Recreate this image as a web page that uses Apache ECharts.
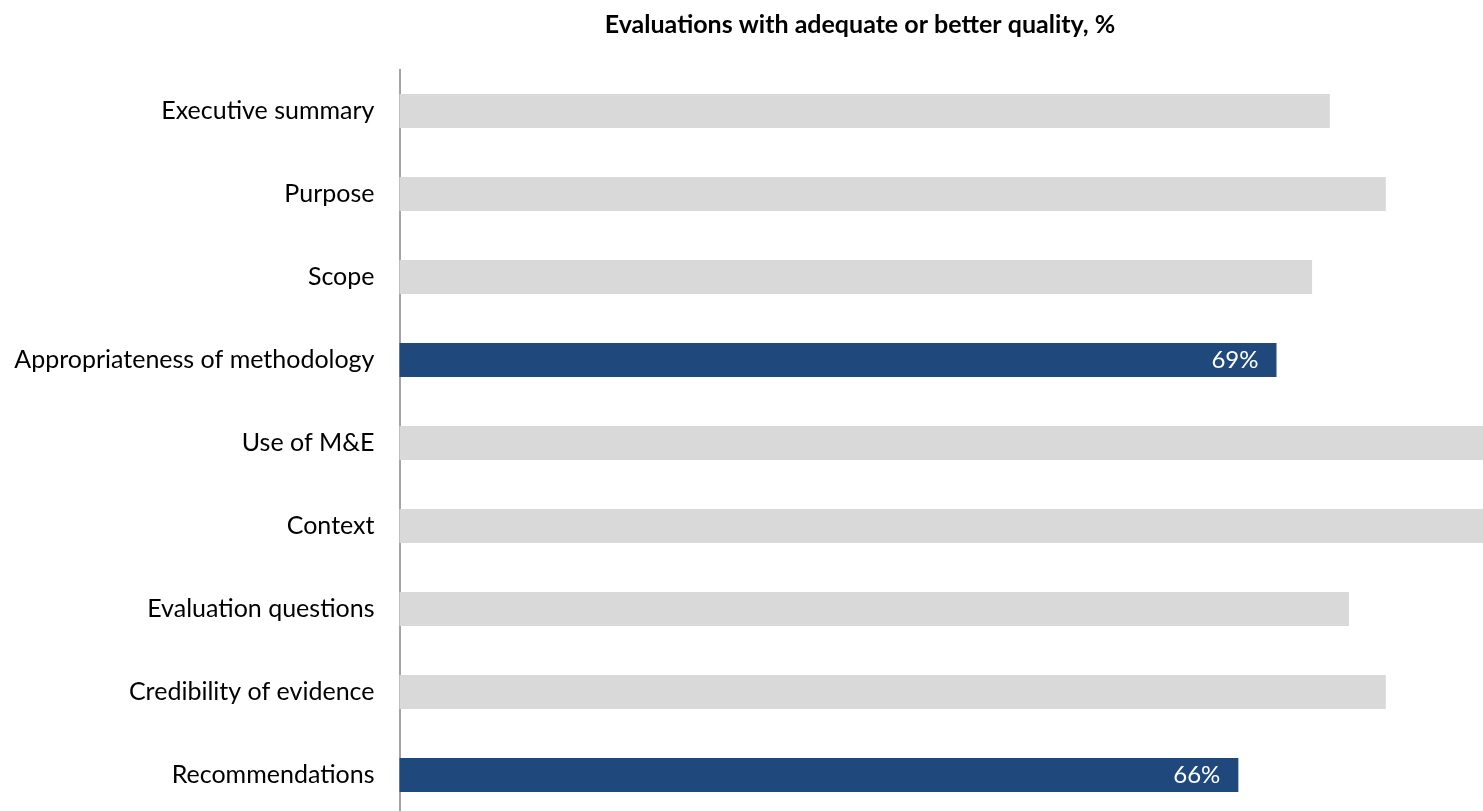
<!DOCTYPE html>
<html>
<head>
<meta charset="utf-8">
<script src="https://cdn.jsdelivr.net/npm/echarts@6/dist/echarts.min.js"></script>
<style>
  html, body { margin: 0; padding: 0; background: #ffffff; overflow: hidden; width: 1483px; height: 811px; }
  #chart { width: 1483px; height: 817px; }
</style>
</head>
<body>
<div id="chart"></div>
<script>
// Quality criteria, top to bottom
const categories = [
  'Executive summary',
  'Purpose',
  'Scope',
  'Appropriateness of methodology',
  'Use of M&E',
  'Context',
  'Evaluation questions',
  'Credibility of evidence',
  'Recommendations'
];

// Share of evaluations rated adequate or better, %
const values = [73.2, 77.6, 71.8, 69, 88, 91, 74.7, 77.6, 66];

// Criteria picked out in dark blue with their value shown
const highlighted = [false, false, false, true, false, false, false, false, true];

const GREY = '#D9D9D9';
const BLUE = '#1F497D';

// Plot runs from the axis to the right edge; 12.71 px per percentage point
const PLOT_LEFT = 399.5;
const PLOT_WIDTH = 1483 - PLOT_LEFT;
const PX_PER_POINT = 12.71;

const barData = values.map((v, i) => ({
  value: v,
  itemStyle: { color: highlighted[i] ? BLUE : GREY },
  label: { show: highlighted[i] }
}));

const chart = echarts.init(document.getElementById('chart'));
chart.setOption({
  animation: false,
  backgroundColor: '#ffffff',
  title: {
    text: 'Evaluations with adequate or better quality, %',
    left: 855,
    top: 7,
    textAlign: 'center',
    textStyle: {
      fontFamily: 'Lato',
      fontWeight: 'bold',
      fontSize: 25,
      color: '#000000'
    }
  },
  grid: {
    left: PLOT_LEFT,
    top: 69.5,
    width: PLOT_WIDTH,
    height: 747,
    containLabel: false
  },
  xAxis: {
    type: 'value',
    min: 0,
    max: PLOT_WIDTH / PX_PER_POINT,
    show: false
  },
  yAxis: {
    type: 'category',
    data: categories,
    inverse: true,
    axisTick: { show: false },
    axisLine: { show: true, lineStyle: { color: '#868686', width: 1.5 } },
    axisLabel: {
      margin: 25,
      fontFamily: 'Lato',
      fontSize: 25,
      color: '#000000'
    },
    splitLine: { show: false }
  },
  series: [{
    type: 'bar',
    data: barData,
    barWidth: 34,
    clip: true,
    label: {
      position: 'insideRight',
      distance: 18,
      color: '#ffffff',
      fontFamily: 'Lato',
      fontSize: 24,
      formatter: p => Math.round(p.value) + '%'
    }
  }]
});
</script>
</body>
</html>
